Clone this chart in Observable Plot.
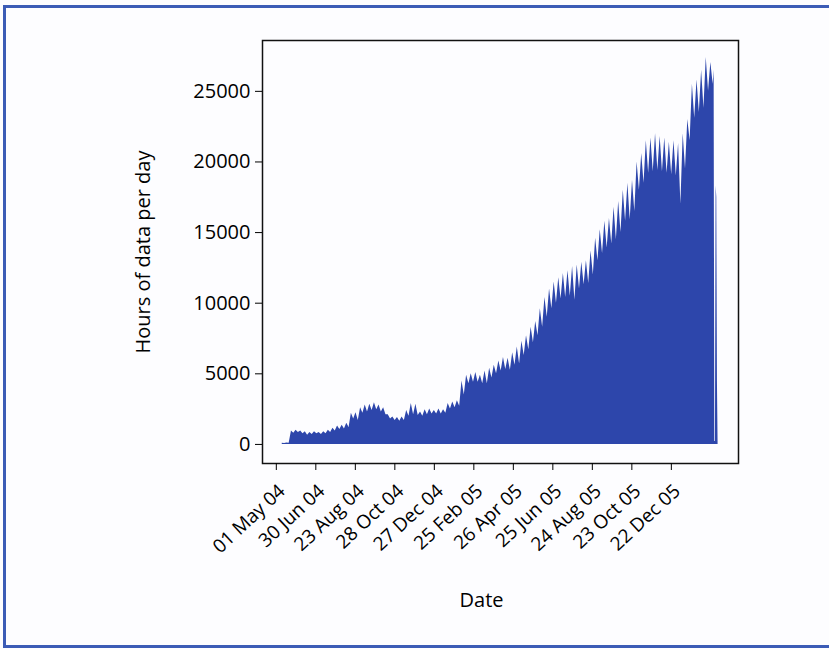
<!DOCTYPE html>
<html>
<head>
<meta charset="utf-8">
<script src="https://cdn.jsdelivr.net/npm/d3@7"></script>
<script src="https://cdn.jsdelivr.net/npm/@observablehq/plot@0.6"></script>
<style>
  html, body { margin: 0; padding: 0; background: #fff; }
  #wrap { position: relative; width: 829px; height: 649px; background: #fdfdff; overflow: hidden; }
  #frame { position: absolute; left: 3px; top: 5px; width: 840px; height: 643px; box-sizing: border-box;
           border-left: 3px solid #3c5cb6; border-top: 3px solid #3c5cb6; border-bottom: 3px solid #3c5cb6; }
  #chart { position: absolute; left: 0; top: 0; }
</style>
</head>
<body>
<div id="wrap"><div id="frame"></div><div id="chart"></div></div>
<script>
// x tick positions: days since 01 May 2004, and their labels
const tickDays = [0, 60, 120, 180, 240, 300, 360, 420, 480, 540, 600];
const tickLabels = ["01 May 04", "30 Jun 04", "23 Aug 04", "28 Oct 04", "27 Dec 04", "25 Feb 05",
                    "26 Apr 05", "25 Jun 05", "24 Aug 05", "23 Oct 05", "22 Dec 05"];
const yTicks = [0, 5000, 10000, 15000, 20000, 25000];

// weekly readings (hours of data per day): weekday peak and weekend dip, starting at week 1
const firstWeek = 1;
const weekPeak = [
  80, 100, 950, 1000, 950, 900, 850, 900, 850, 900,
  1000, 1150, 1300, 1350, 1500, 2200, 2250, 2600, 2800, 2850,
  2950, 2800, 2600, 2100, 1950, 1900, 1950, 2400, 2900, 2850,
  2300, 2450, 2500, 2400, 2500, 2450, 2900, 3000, 3100, 4500,
  4900, 5000, 5100, 4900, 5200, 5400, 5600, 5900, 6150, 6100,
  6500, 6900, 7300, 7700, 8300, 8700, 9600, 10400, 11000, 11500,
  11800, 12100, 12300, 12600, 12700, 12900, 13000, 13700, 14600, 15200,
  15800, 16000, 16800, 17200, 18000, 18500, 18700, 20000, 20600, 21500,
  21700, 22000, 21800, 21700, 21400, 21500, 21300, 22000, 23000, 25500,
  25800, 26500, 27400, 27050
];
const weekTrough = [
  60, 90, 800, 850, 750, 650, 700, 750, 700, 750,
  850, 950, 1050, 1100, 1200, 1800, 1700, 2200, 2300, 2400,
  2450, 2300, 2100, 1800, 1700, 1650, 1700, 2000, 2100, 2050,
  2000, 2100, 2150, 2150, 2150, 2200, 2500, 2600, 2700, 3500,
  4300, 4400, 4400, 4300, 4300, 4700, 5000, 5200, 5300, 5250,
  5600, 5700, 6300, 6700, 7200, 7700, 8300, 9000, 9600, 10000,
  10300, 10400, 10500, 10200, 11000, 11300, 11400, 12000, 13000, 13500,
  13900, 14200, 14500, 15000, 15800, 15900, 16500, 18000, 18500, 19200,
  19300, 19400, 19300, 19200, 19100, 19000, 17000, 19500, 21500, 23100,
  23500, 23800, 25000, 25500
];
// last days of the record
const tailDays  = [665, 666, 667, 668, 669, 670, 671];
const tailHours = [26500, 200, 200, 18300, 17500, 4500, 0];

const series = [];
weekPeak.forEach((p, i) => {
  const w = firstWeek + i;
  series.push({day: 7 * w + 2, hours: p});
  series.push({day: 7 * w + 5.5, hours: weekTrough[i]});
});
tailDays.forEach((d, i) => series.push({day: d, hours: tailHours[i]}));

const chart = Plot.plot({
  width: 829,
  height: 649,
  marginLeft: 262,
  marginRight: 91,
  marginTop: 40,
  marginBottom: 186,
  style: {fontFamily: "'Open Sans', 'Noto Sans', sans-serif", fontSize: "20px", color: "#000", background: "transparent"},
  x: {domain: [-21, 702]},
  y: {domain: [-1350, 28600]},
  marks: [
    Plot.areaY(series, {x: "day", y: "hours", fill: "#2d46ab", curve: "linear"}),
    Plot.frame({stroke: "#111", strokeWidth: 1.5}),
    Plot.axisY({ticks: yTicks, tickSize: 7, tickPadding: 5, tickFormat: d3.format("d"), label: null}),
    Plot.axisX({ticks: tickDays, tickSize: 7, tickFormat: () => "", label: null}),
    Plot.text(tickDays, {x: d => d, text: d => tickLabels[tickDays.indexOf(d)], frameAnchor: "bottom",
                         rotate: -43, textAnchor: "end", dx: 10, dy: 29, fontSize: 19}),
    Plot.text(["Hours of data per day"], {text: d => d, frameAnchor: "left", textAnchor: "middle",
                                           dx: -119, rotate: -90, fontSize: 20}),
    Plot.text(["Date"], {text: d => d, frameAnchor: "bottom", textAnchor: "middle", dx: -19, dy: 143, fontSize: 20})
  ]
});
document.getElementById("chart").appendChild(chart);
</script>
</body>
</html>
